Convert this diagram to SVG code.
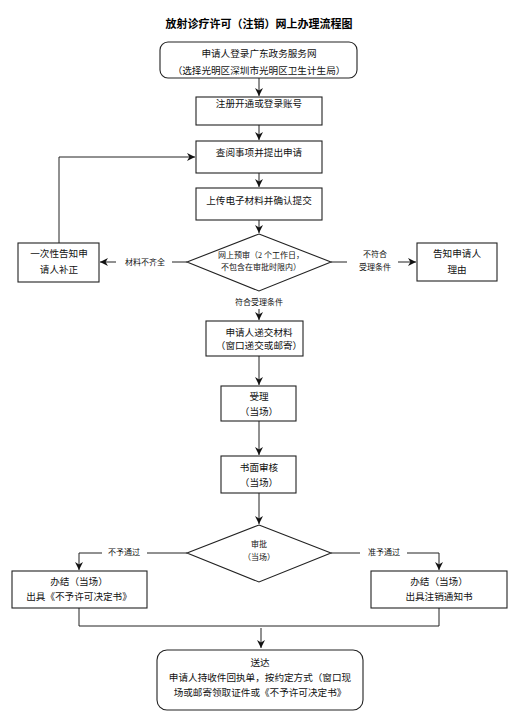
<svg xmlns="http://www.w3.org/2000/svg" width="522" height="718" viewBox="0 0 522 718">
<style>
.bx{fill:#fff;stroke:#222;stroke-width:1.1}
.ln{fill:none;stroke:#222;stroke-width:1}
.t{font-family:"Liberation Serif","Noto Sans CJK SC",serif;font-size:9.6px;fill:#111;text-anchor:middle}
.s{font-family:"Liberation Serif","Noto Sans CJK SC",serif;font-size:8px;fill:#111;text-anchor:middle}
.title{font-family:"Liberation Serif","Noto Sans CJK SC",serif;font-size:11px;font-weight:bold;fill:#000;text-anchor:middle}
</style>
<defs>
<marker id="ah" viewBox="0 0 10 10" refX="10" refY="5" markerWidth="8" markerHeight="8" markerUnits="userSpaceOnUse" orient="auto">
<path d="M0,0 L10,5 L0,10 L3,5 z" fill="#111"/>
</marker>
</defs>
<rect width="522" height="718" fill="#fff"/>
<text class="title" x="259" y="28">放射诊疗许可（注销）网上办理流程图</text>

<g id="connectors">
<path class="ln" d="M259,78 V96" marker-end="url(#ah)"/>
<path class="ln" d="M259,125 V140" marker-end="url(#ah)"/>
<path class="ln" d="M259,173 V187" marker-end="url(#ah)"/>
<path class="ln" d="M259,220 V233" marker-end="url(#ah)"/>
<path class="ln" d="M187,262 H172"/>
<path class="ln" d="M116,262 H100" marker-end="url(#ah)"/>
<path class="ln" d="M331,262 H347"/>
<path class="ln" d="M398,262 H416" marker-end="url(#ah)"/>
<path class="ln" d="M59,243 V157 H195" marker-end="url(#ah)"/>
<path class="ln" d="M259,309 V320" marker-end="url(#ah)"/>
<path class="ln" d="M259,356 V385" marker-end="url(#ah)"/>
<path class="ln" d="M259,421 V455" marker-end="url(#ah)"/>
<path class="ln" d="M259,493 V524" marker-end="url(#ah)"/>
<path class="ln" d="M187,553 H147"/>
<path class="ln" d="M102,553 H79 V570" marker-end="url(#ah)"/>
<path class="ln" d="M331,553 H360"/>
<path class="ln" d="M407,553 H439 V570" marker-end="url(#ah)"/>
<path class="ln" d="M79,608 V626 H439 V608"/>
<path class="ln" d="M261,628 V648" marker-end="url(#ah)"/>
<text class="s" x="145" y="265">材料不齐全</text>
<text class="s" x="375" y="257">不符合</text>
<text class="s" x="375" y="270">受理条件</text>
<text class="s" x="259" y="305">符合受理条件</text>
<text class="s" x="124" y="555">不予通过</text>
<text class="s" x="384" y="555">准予通过</text>
</g>

<g id="n1"><rect class="bx" x="160" y="42" width="197" height="36" rx="8"/>
<text class="t" x="259" y="57">申请人登录广东政务服务网</text>
<text class="t" x="259" y="74">（选择光明区深圳市光明区卫生计生局）</text></g>
<g id="n2"><rect class="bx" x="196" y="97" width="126" height="28"/>
<text class="t" x="259" y="107">注册开通或登录账号</text></g>
<g id="n3"><rect class="bx" x="196" y="141" width="126" height="32"/>
<text class="t" x="259" y="156">查阅事项并提出申请</text></g>
<g id="n4"><rect class="bx" x="196" y="188" width="126" height="32"/>
<text class="t" x="259" y="204">上传电子材料并确认提交</text></g>
<g id="n5"><polygon class="bx" points="259,234 331,262 259,291 187,262"/>
<text class="s" x="261" y="258">网上预审（2 个工作日，</text>
<text class="s" x="261" y="270">不包含在审批时限内）</text></g>
<g id="n6"><rect class="bx" x="18" y="243" width="81" height="39"/>
<text class="t" x="59" y="257">一次性告知申</text>
<text class="t" x="59" y="273">请人补正</text></g>
<g id="n7"><rect class="bx" x="417" y="243" width="80" height="38"/>
<text class="t" x="457" y="257">告知申请人</text>
<text class="t" x="457" y="273">理由</text></g>
<g id="n8"><rect class="bx" x="206" y="321" width="97" height="35"/>
<text class="t" x="259" y="336">申请人递交材料</text>
<text class="t" x="259" y="349">（窗口递交或邮寄）</text></g>
<g id="n9"><rect class="bx" x="221" y="386" width="75" height="35"/>
<text class="t" x="259" y="400">受理</text>
<text class="t" x="259" y="415">（当场）</text></g>
<g id="n10"><rect class="bx" x="221" y="456" width="75" height="37"/>
<text class="t" x="259" y="471">书面审核</text>
<text class="t" x="259" y="486">（当场）</text></g>
<g id="n11"><polygon class="bx" points="259,525 331,553 259,582 187,553"/>
<text class="s" x="259" y="547">审批</text>
<text class="s" x="259" y="560">（当场）</text></g>
<g id="n12"><rect class="bx" x="12" y="571" width="135" height="37"/>
<text class="t" x="79" y="585">办结（当场）</text>
<text class="t" x="79" y="600">出具《不予许可决定书》</text></g>
<g id="n13"><rect class="bx" x="371" y="571" width="136" height="37"/>
<text class="t" x="439" y="585">办结（当场）</text>
<text class="t" x="439" y="600">出具注销通知书</text></g>
<g id="n14"><rect class="bx" x="157" y="650" width="206" height="60" rx="10"/>
<text class="t" x="260" y="666">送达</text>
<text class="t" x="260" y="681">申请人持收件回执单，按约定方式（窗口现</text>
<text class="t" x="260" y="696">场或邮寄领取证件或《不予许可决定书》</text></g>
</svg>
